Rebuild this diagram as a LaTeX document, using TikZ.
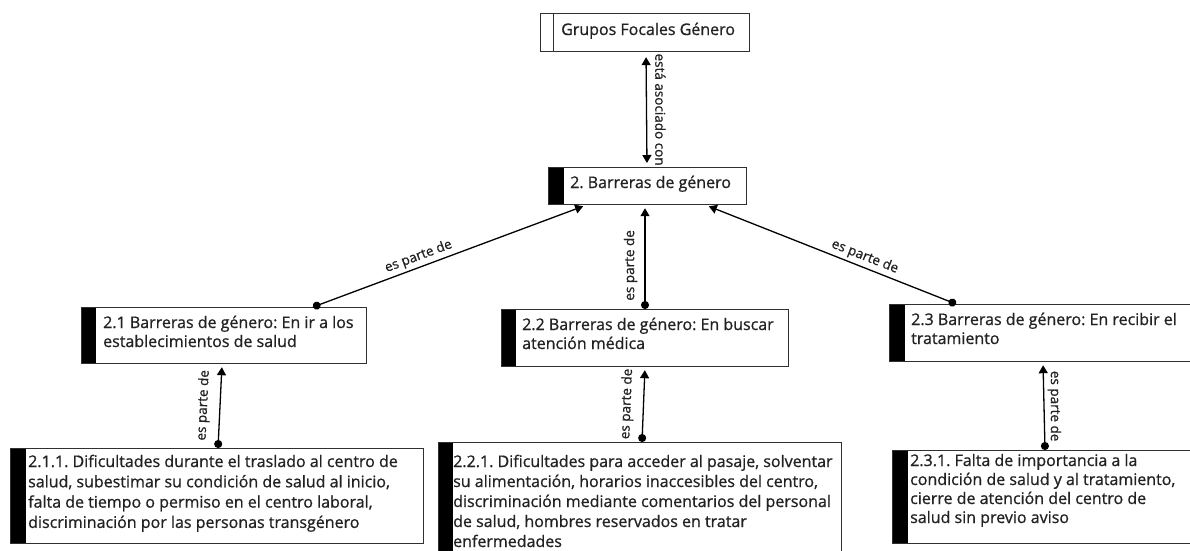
\documentclass[tikz,border=0pt]{standalone}
\usepackage{fontspec}
\setmainfont{Open Sans}[RawFeature={embolden=0.8}]
\frenchspacing
\usetikzlibrary{arrows.meta}
\definecolor{ink}{HTML}{222222}
\definecolor{edge}{HTML}{303030}
\tikzset{
  box/.style={draw=edge, line width=1.2pt, anchor=north west, inner sep=0pt},
  bar/.style={path picture={\fill[black] (path picture bounding box.south west)
    rectangle ([xshift=#1]path picture bounding box.north west);}},
  hollowbar/.style={path picture={\draw[edge, line width=1pt]
    ([xshift=#1]path picture bounding box.south west) --
    ([xshift=#1]path picture bounding box.north west);}},
  txt/.style={anchor=base west, inner sep=0pt, text=ink, font=\fontsize{16}{#1}\selectfont},
  txt/.default=20,
  conn/.style={line width=1.3pt, {Circle[length=8pt]}-{Triangle[length=8pt,width=9pt]},
    shorten >=3pt},
  biconn/.style={line width=1.3pt, {Triangle[length=8pt,width=9pt]}-{Triangle[length=8pt,width=9pt]},
    shorten >=4pt, shorten <=5pt},
  lab/.style={font=\fontsize{13.5}{15}\selectfont, text=ink, inner sep=3pt}
}
\begin{document}
\begin{tikzpicture}[x=1pt, y=-1pt]
\clip (0,0) rectangle (1190,550);
\fill[white] (0,0) rectangle (1190,550);

% boxes
\node[box, hollowbar=13pt, minimum width=209pt, minimum height=38pt] (n1) at (540,13) {};
\node[box, bar=15pt, minimum width=198pt, minimum height=37pt] (n2) at (548,167) {};
\node[box, bar=14pt, minimum width=285pt, minimum height=56pt] (n21) at (81,307) {};
\node[box, bar=14pt, minimum width=287pt, minimum height=57pt] (n22) at (501,309) {};
\node[box, bar=15pt, minimum width=331pt, minimum height=57pt] (n23) at (889,304) {};
\node[box, bar=15pt, minimum width=413pt, minimum height=95pt] (n211) at (10,448) {};
\node[box, bar=14pt, minimum width=403pt, minimum height=128pt] (n221) at (438,442) {};
\node[box, bar=15pt, minimum width=330pt, minimum height=93pt] (n231) at (892,450) {};

% texts
\node[txt] (t1) at ([shift={(21,22)}]n1.north west) {Grupos Focales Género};
\node[txt] (t2) at ([shift={(22,21)}]n2.north west) {2. Barreras de género};
\node[txt=19] (t21) at ([shift={(22,21)}]n21.north west)
  {\parbox[t]{300pt}{\raggedright 2.1 Barreras de género: En ir a los\\establecimientos de salud}};
\node[txt=19] (t22) at ([shift={(21,21)}]n22.north west)
  {\parbox[t]{300pt}{\raggedright 2.2 Barreras de género: En buscar\\atención médica}};
\node[txt=19] (t23) at ([shift={(22,21)}]n23.north west)
  {\parbox[t]{300pt}{\raggedright 2.3 Barreras de género: En recibir el\\tratamiento}};
\node[txt=20.3] (t211) at ([shift={(18,19)}]n211.north west)
  {\parbox[t]{420pt}{\raggedright 2.1.1. Dificultades durante el traslado al centro de\\salud, subestimar su condición de salud al inicio,\\falta de tiempo o permiso en el centro laboral,\\discriminación por las personas transgénero}};
\node[txt=20] (t221) at ([shift={(15,25)}]n221.north west)
  {\parbox[t]{420pt}{\raggedright 2.2.1. Dificultades para acceder al pasaje, solventar\\su alimentación, horarios inaccesibles del centro,\\discriminación mediante comentarios del personal\\de salud, hombres reservados en tratar\\enfermedades}};
\node[txt=19] (t231) at ([shift={(18,16)}]n231.north west)
  {\parbox[t]{320pt}{\raggedright 2.3.1. Falta de importancia a la\\condición de salud y al tratamiento,\\cierre de atención del centro de\\salud sin previo aviso}};

% connectors
\draw[biconn] ([xshift=106pt]n1.south west) --
  node[lab, midway, rotate=-90, anchor=south, inner sep=8pt] {está asociado con}
  ([xshift=99pt]n2.north west);

\draw[conn] ([xshift=232pt]n21.north west) --
  node[lab, sloped, above, pos=0.4] {es parte de} ([xshift=38pt]n2.south west);
\draw[conn] ([xshift=144pt]n22.north west) --
  node[lab, sloped, above, pos=0.42, inner sep=7pt] {es parte de} ([xshift=97pt]n2.south west);
\draw[conn] ([xshift=67pt]n23.north west) --
  node[lab, sloped, above, pos=0.38] {es parte de} ([xshift=158pt]n2.south west);

\draw[conn] ([xshift=208pt]n211.north west) --
  node[lab, sloped, above, midway, inner sep=9pt] {es parte de} ([xshift=141pt]n21.south west);
\draw[conn] ([xshift=204pt]n221.north west) --
  node[lab, sloped, above, midway, inner sep=9pt] {es parte de} ([xshift=144pt]n22.south west);
\draw[conn] ([xshift=153pt]n231.north west) --
  node[lab, midway, rotate=-90, anchor=south, inner sep=3pt] {es parte de} ([xshift=154pt]n23.south west);
\end{tikzpicture}
\end{document}
